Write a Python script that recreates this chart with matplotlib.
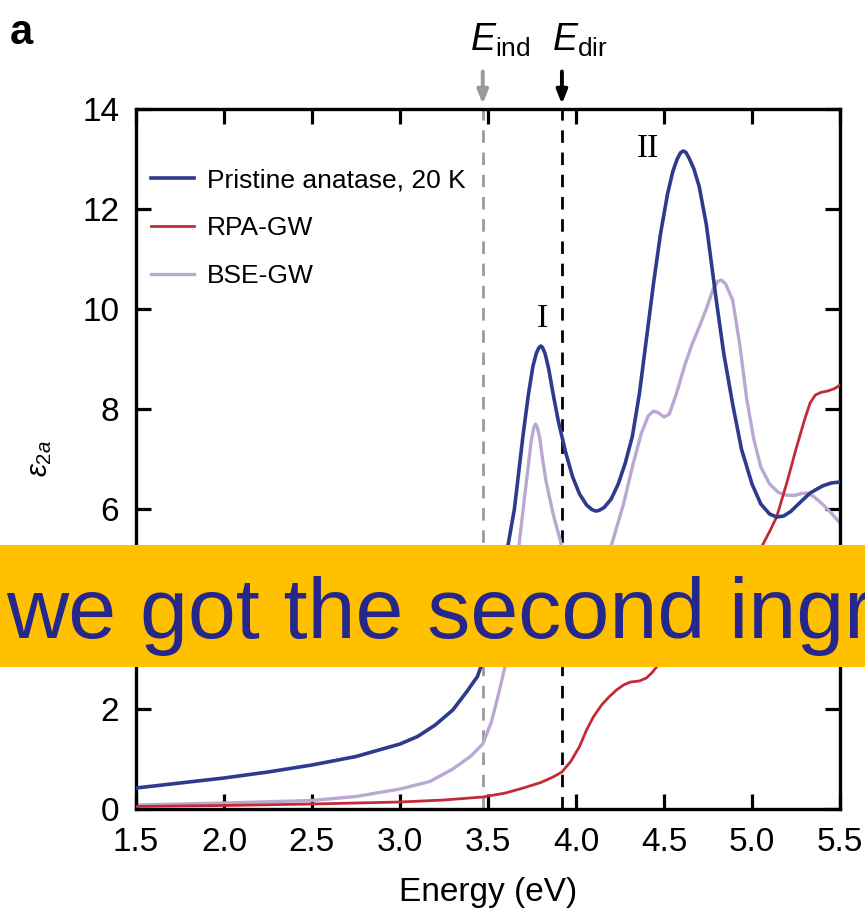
import matplotlib
matplotlib.use("Agg")
import matplotlib.pyplot as plt
from matplotlib.patches import Rectangle

plt.rcParams['font.family'] = ['Liberation Sans', 'DejaVu Sans']
plt.rcParams['mathtext.fontset'] = 'custom'
plt.rcParams['mathtext.rm'] = 'Liberation Sans'
plt.rcParams['mathtext.it'] = 'Liberation Sans:italic'

# Measured imaginary dielectric function (blue) and calculations (red, purple)
energy_exp = [1.5, 1.75, 2.0, 2.25, 2.5, 2.75, 3.0, 3.1, 3.2, 3.3, 3.38, 3.44, 3.5,
              3.55, 3.6, 3.65, 3.7, 3.73, 3.755, 3.775, 3.79, 3.8, 3.81, 3.825, 3.845,
              3.87, 3.9, 3.94, 3.98, 4.02, 4.06, 4.09, 4.11, 4.13, 4.16, 4.2, 4.24,
              4.28, 4.32, 4.36, 4.4, 4.44, 4.48, 4.52, 4.55, 4.575, 4.595, 4.61,
              4.625, 4.645, 4.67, 4.7, 4.74, 4.77, 4.8, 4.84, 4.89, 4.94, 5.0, 5.05,
              5.1, 5.14, 5.18, 5.22, 5.27, 5.33, 5.4, 5.45, 5.5]
eps_exp = [0.42, 0.52, 0.62, 0.74, 0.88, 1.05, 1.3, 1.45, 1.68, 1.98, 2.35, 2.65, 3.25,
           4.1, 5.0, 6.0, 7.5, 8.3, 8.85, 9.12, 9.23, 9.26, 9.23, 9.1, 8.8,
           8.3, 7.75, 7.15, 6.65, 6.3, 6.08, 5.99, 5.96, 5.97, 6.03, 6.2, 6.5,
           6.92, 7.45, 8.3, 9.4, 10.5, 11.5, 12.3, 12.75, 13.0, 13.13, 13.16,
           13.13, 13.0, 12.8, 12.45, 11.7, 10.9, 10.1, 9.1, 8.1, 7.2, 6.5, 6.1,
           5.9, 5.84, 5.86, 5.95, 6.12, 6.32, 6.46, 6.52, 6.54]

energy_rpa = [1.5, 2.0, 2.5, 3.0, 3.25, 3.47, 3.6, 3.7, 3.8, 3.87, 3.92, 3.97, 4.02,
              4.06, 4.1, 4.15, 4.19, 4.23, 4.27, 4.31, 4.36, 4.4, 4.43, 4.46, 4.55,
              4.65, 4.75, 4.85, 4.95, 5.06, 5.1, 5.14, 5.2, 5.25, 5.3, 5.33, 5.36,
              5.39, 5.43, 5.47, 5.5]
eps_rpa = [0.05, 0.07, 0.1, 0.14, 0.18, 0.24, 0.32, 0.42, 0.53, 0.64, 0.74, 0.95, 1.25,
           1.58, 1.85, 2.1, 2.25, 2.38, 2.48, 2.54, 2.56, 2.62, 2.72, 2.85, 3.15,
           3.5, 3.9, 4.35, 4.8, 5.28, 5.55, 5.84, 6.55, 7.2, 7.8, 8.12, 8.28,
           8.33, 8.36, 8.41, 8.48]

energy_bse = [1.5, 2.0, 2.5, 2.75, 3.0, 3.17, 3.3, 3.4, 3.47, 3.52, 3.56, 3.6, 3.64,
              3.68, 3.71, 3.73, 3.745, 3.76, 3.77, 3.78, 3.795, 3.81, 3.83, 3.87,
              3.91, 3.96, 4.0, 4.05, 4.1, 4.15, 4.21, 4.27, 4.32, 4.37, 4.41, 4.44,
              4.47, 4.5, 4.53, 4.57, 4.62, 4.66, 4.7, 4.74, 4.78, 4.805, 4.825, 4.85,
              4.89, 4.93, 4.97, 5.01, 5.05, 5.1, 5.15, 5.19, 5.24, 5.28, 5.31, 5.35,
              5.4, 5.45, 5.5]
eps_bse = [0.08, 0.12, 0.17, 0.25, 0.4, 0.55, 0.8, 1.05, 1.3, 1.75, 2.3, 2.9, 4.0,
           5.4, 6.3, 6.9, 7.35, 7.62, 7.7, 7.64, 7.4, 7.0, 6.55, 5.9,
           5.38, 4.6, 4.15, 3.95, 4.2, 4.7, 5.38, 6.1, 6.84, 7.5, 7.86, 7.96,
           7.92, 7.84, 7.9, 8.3, 8.9, 9.3, 9.64, 10.0, 10.4, 10.55, 10.58, 10.5,
           10.18, 9.3, 8.2, 7.4, 6.84, 6.5, 6.33, 6.28, 6.27, 6.31, 6.32, 6.25,
           6.1, 5.92, 5.72]

series_labels = ['Pristine anatase, 20 K', 'RPA-GW', 'BSE-GW']
series_colors = ['#2E3A8E', '#C42A36', '#BBA8D2']

e_ind = 3.47
e_dir = 3.92

x_ticks = [1.5, 2.0, 2.5, 3.0, 3.5, 4.0, 4.5, 5.0, 5.5]
y_ticks = [0, 2, 4, 6, 8, 10, 12, 14]

W, H = 865, 919
fig = plt.figure(figsize=(W / 100, H / 100), dpi=100)
ax = fig.add_axes([136 / W, 1 - 809 / H, (840 - 136) / W, (809 - 109) / H])

ax.axvline(e_ind, color='#9A9A9A', lw=2.0, ls=(0, (4.5, 3.5)), zorder=1)
ax.axvline(e_dir, color='black', lw=2.0, ls=(0, (4.5, 3.5)), zorder=1)

ax.plot(energy_exp, eps_exp, color=series_colors[0], lw=2.6, label=series_labels[0],
        zorder=4, solid_joinstyle='round')
ax.plot(energy_rpa, eps_rpa, color=series_colors[1], lw=2.0, label=series_labels[1],
        zorder=3, solid_joinstyle='round')
ax.plot(energy_bse, eps_bse, color=series_colors[2], lw=2.4, label=series_labels[2],
        zorder=2, solid_joinstyle='round')

ax.set_xlim(1.5, 5.5)
ax.set_ylim(0, 14)
ax.set_xticks(x_ticks)
ax.set_xticklabels([f'{v:.1f}' for v in x_ticks])
ax.set_yticks(y_ticks)
ax.tick_params(direction='in', length=11, width=2.3, labelsize=24,
               top=True, right=True)
ax.tick_params(axis='x', pad=13)
ax.tick_params(axis='y', pad=12)
for s in ax.spines.values():
    s.set_linewidth(2.4)

ax.set_xlabel('Energy (eV)', fontsize=24, labelpad=14)
ax.set_ylabel(r'$\varepsilon_{2a}$', fontsize=21, labelpad=20)

ax.legend(loc='upper left', bbox_to_anchor=(-0.008, 0.945), frameon=False,
          fontsize=19, handlelength=1.6, handletextpad=0.5, labelspacing=0.9,
          borderaxespad=0.4)

ax.text(3.81, 9.5, 'I', family='Liberation Serif', fontsize=24, ha='center', va='bottom')
ax.text(4.41, 12.9, 'II', family='Liberation Serif', fontsize=24, ha='center', va='bottom')

# Band-gap arrows above the frame
for xe, col, lab in [(e_ind, '#9A9A9A', r'$E_{\mathrm{ind}}$'),
                     (e_dir, 'black', r'$E_{\mathrm{dir}}$')]:
    ax.annotate('', xy=(xe, 14.1), xycoords='data',
                xytext=(xe, 14.75), textcoords='data',
                arrowprops=dict(arrowstyle='-|>,head_length=0.8,head_width=0.32',
                                color=col, lw=2.8, shrinkA=0, shrinkB=0),
                annotation_clip=False)
    ax.text(xe + 0.1, 15.0, lab, fontsize=27, ha='center', va='bottom')

fig.text(10 / W, 1 - 44 / H, 'a', fontsize=30, fontweight='bold', ha='left', va='baseline')

# Caption banner
fig.patches.append(Rectangle((0, 1 - 667 / H), 1, (667 - 545) / H,
                             transform=fig.transFigure, facecolor='#FFC000',
                             edgecolor='none', zorder=10))
fig.text(6 / W, 1 - 638 / H, 'we got the second ingredient', fontsize=62,
         color='#26278C', ha='left', va='baseline', zorder=11)

fig.savefig('out.png', dpi=100)
